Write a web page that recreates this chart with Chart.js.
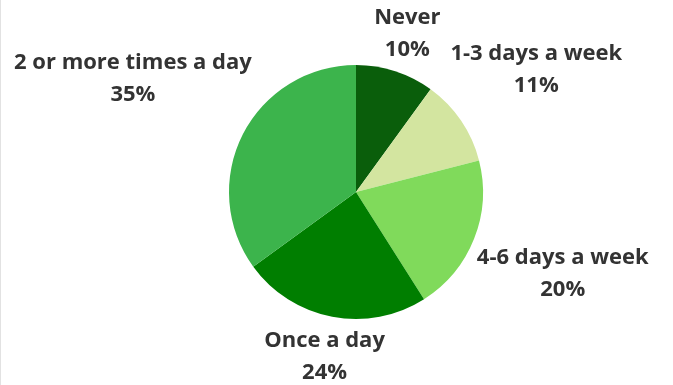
<!DOCTYPE html>
<html>
<head>
<meta charset="utf-8">
<script src="https://cdn.jsdelivr.net/npm/chart.js@4"></script>
<style>
  html, body { margin: 0; padding: 0; background: #fff; }
  #wrap { width: 673px; height: 385px; position: relative; }
  #wrap::before { content: ''; position: absolute; left: 0; top: 0; width: 1px; height: 100%; background: #e2e2e2; }
</style>
</head>
<body>
<div id="wrap"><canvas id="freq"></canvas></div>
<script>
/*_____________________FREQUENCY_PIE____________________*/

const labels = ['Never', '1-3 days a week', '4-6 days a week', 'Once a day', '2 or more times a day'];
const shares = [10, 11, 20, 24, 35];
const colors = ['#0a5e0b', '#d3e5a0', '#80da5b', '#007e00', '#3cb44c'];

// writes "name / NN%" outside each slice, along the slice's mid angle
const outsideLabels = {
  id: 'outsideLabels',
  afterDatasetsDraw(chart) {
    const ctx = chart.ctx;
    const meta = chart.getDatasetMeta(0);
    const lineGap = 32;
    const pad = 7;
    ctx.save();
    ctx.font = 'bold 22px "Open Sans", Lato, sans-serif';
    ctx.fillStyle = '#333333';
    ctx.textAlign = 'center';
    ctx.textBaseline = 'middle';
    meta.data.forEach((arc, i) => {
      const p = arc.getProps(['x', 'y', 'startAngle', 'endAngle', 'outerRadius'], true);
      const mid = (p.startAngle + p.endAngle) / 2;
      const dx = Math.cos(mid), dy = Math.sin(mid);
      const line1 = labels[i];
      const line2 = shares[i] + '%';
      const hw = Math.max(ctx.measureText(line1).width, ctx.measureText(line2).width) / 2;
      const hh = lineGap / 2 + 7;
      const d = p.outerRadius + pad + Math.abs(dx) * hw + Math.abs(dy) * hh;
      const cx = p.x + dx * d;
      const cy = p.y + dy * d;
      ctx.fillText(line1, cx, cy - lineGap / 2);
      ctx.fillText(line2, cx, cy + lineGap / 2);
    });
    ctx.restore();
  }
};

new Chart(document.getElementById('freq'), {
  type: 'pie',
  data: {
    labels: labels,
    datasets: [{
      data: shares,
      backgroundColor: colors,
      borderWidth: 0
    }]
  },
  options: {
    responsive: true,
    maintainAspectRatio: false,
    animation: false,
    layout: { padding: { left: 229, right: 190, top: 65, bottom: 66 } },
    plugins: {
      legend: { display: false },
      tooltip: { enabled: false }
    }
  },
  plugins: [outsideLabels]
});
</script>
</body>
</html>
